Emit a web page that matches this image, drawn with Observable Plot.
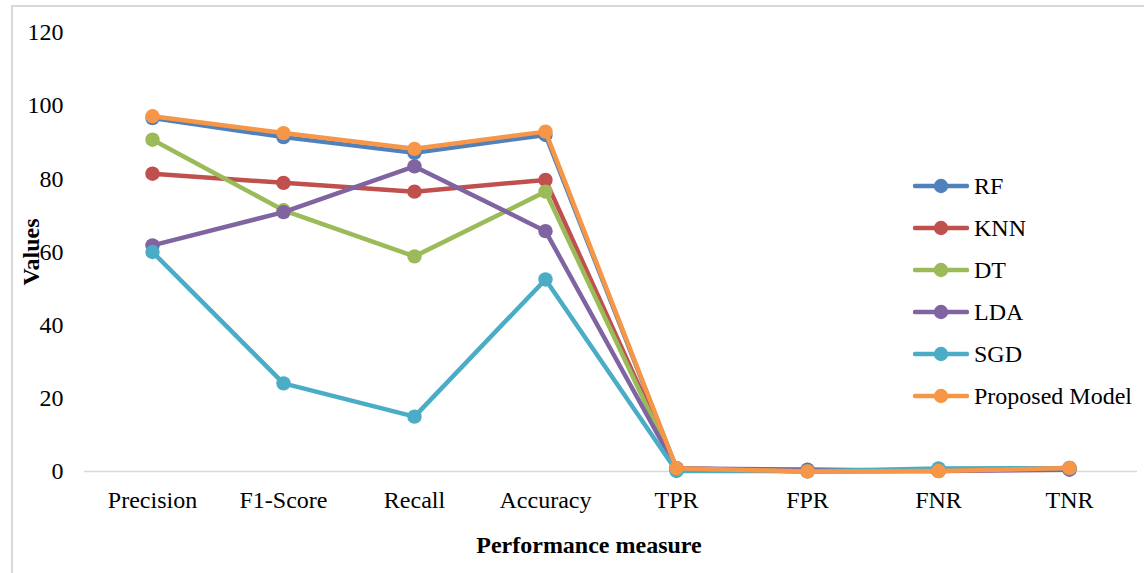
<!DOCTYPE html>
<html>
<head>
<meta charset="utf-8">
<script src="https://cdn.jsdelivr.net/npm/d3@7"></script>
<script src="https://cdn.jsdelivr.net/npm/@observablehq/plot@0.6"></script>
<style>
  html, body { margin: 0; padding: 0; background: #fff; }
  #wrap { position: relative; width: 1144px; height: 573px; overflow: hidden;
          font-family: "Liberation Serif", "DejaVu Serif", serif; color: #000; }
  #frame { position: absolute; left: 11px; top: 5px; width: 1200px; height: 620px;
           border-left: 2px solid #d9d9d9; border-top: 2px solid #d9d9d9; pointer-events: none; }
  .title { position: absolute; font-weight: bold; font-size: 24px; white-space: nowrap; }
  #legend { position: absolute; left: 913px; top: 165px; }
  .row { display: flex; align-items: center; height: 42px; font-size: 24px; }
  .row svg { margin-right: 5px; }
</style>
</head>
<body>
<div id="wrap">
  <div id="chart"></div>
  <div id="frame"></div>
  <div class="title" id="ytitle">Values</div>
  <div class="title" id="xtitle">Performance measure</div>
  <div id="legend"></div>
</div>
<script>
// Performance measures on the x axis
const measures = ["Precision", "F1-Score", "Recall", "Accuracy", "TPR", "FPR", "FNR", "TNR"];

// Models, in drawing order
const models = ["RF", "KNN", "DT", "LDA", "SGD", "Proposed Model"];
const colors = ["#4F81BD", "#C0504D", "#9BBB59", "#8064A2", "#4BACC6", "#F79646"];

// Scores per model, one value per measure
const rf       = [96.6, 91.4, 87.1, 92.0, 0.87, 0.03, 0.13, 0.97];
const knn      = [81.4, 78.9, 76.5, 79.7, 0.77, 0.18, 0.23, 0.82];
const dt       = [90.7, 71.4, 58.8, 76.5, 0.59, 0.06, 0.41, 0.94];
const lda      = [61.8, 70.9, 83.4, 65.7, 0.83, 0.52, 0.17, 0.48];
const sgd      = [60.0, 24.1, 15.0, 52.5, 0.15, 0.10, 0.85, 0.90];
const proposed = [97.1, 92.5, 88.2, 92.9, 0.88, 0.02, 0.12, 0.98];

const yTicks = [0, 20, 40, 60, 80, 100, 120];

const seriesValues = [rf, knn, dt, lda, sgd, proposed];
const rows = models.flatMap((m, i) =>
  measures.map((k, j) => ({model: m, measure: k, value: seriesValues[i][j]})));

const W = 1144, H = 573;

const marks = [
  Plot.ruleY([0], {stroke: "#d9d9d9", strokeWidth: 1.5}),
  Plot.axisY({ticks: yTicks, tickSize: 0, tickPadding: 21, fontSize: 24, label: null}),
  Plot.axisX({tickSize: 0, tickPadding: 19, fontSize: 24, label: null})
];
// each model: its line, then its markers on top
for (const m of models) {
  const d = rows.filter(r => r.model === m);
  marks.push(Plot.line(d, {x: "measure", y: "value", stroke: "model", strokeWidth: 4.5,
                           strokeLinejoin: "round", strokeLinecap: "round"}));
  marks.push(Plot.dot(d, {x: "measure", y: "value", fill: "model", r: 7.2}));
}

const chart = Plot.plot({
  width: W,
  height: H,
  marginLeft: 84,
  marginRight: 7,
  marginTop: 32,
  marginBottom: 102,
  style: {fontFamily: "'Liberation Serif', 'DejaVu Serif', serif", fontSize: "24px", color: "#000", background: "transparent"},
  x: {type: "point", domain: measures, padding: 0.5},
  y: {domain: [0, 120]},
  color: {domain: models, range: colors},
  marks
});
document.getElementById("chart").append(chart);

// axis titles
const yt = document.getElementById("ytitle");
yt.style.left = "31px"; yt.style.top = "252px";
yt.style.transform = "translate(-50%, -50%) rotate(-90deg)";
const xt = document.getElementById("xtitle");
xt.style.left = "589px"; xt.style.top = "545px";
xt.style.transform = "translate(-50%, -50%)";

// legend: line-and-marker swatch per model
const legend = d3.select("#legend");
models.forEach((m, i) => {
  const row = legend.append("div").attr("class", "row");
  const s = row.append("svg").attr("width", 56).attr("height", 18);
  s.append("line").attr("x1", 2).attr("x2", 54).attr("y1", 9).attr("y2", 9)
    .attr("stroke", colors[i]).attr("stroke-width", 4.5).attr("stroke-linecap", "round");
  s.append("circle").attr("cx", 28).attr("cy", 9).attr("r", 7.2).attr("fill", colors[i]);
  row.append("span").text(m);
});
</script>
</body>
</html>
